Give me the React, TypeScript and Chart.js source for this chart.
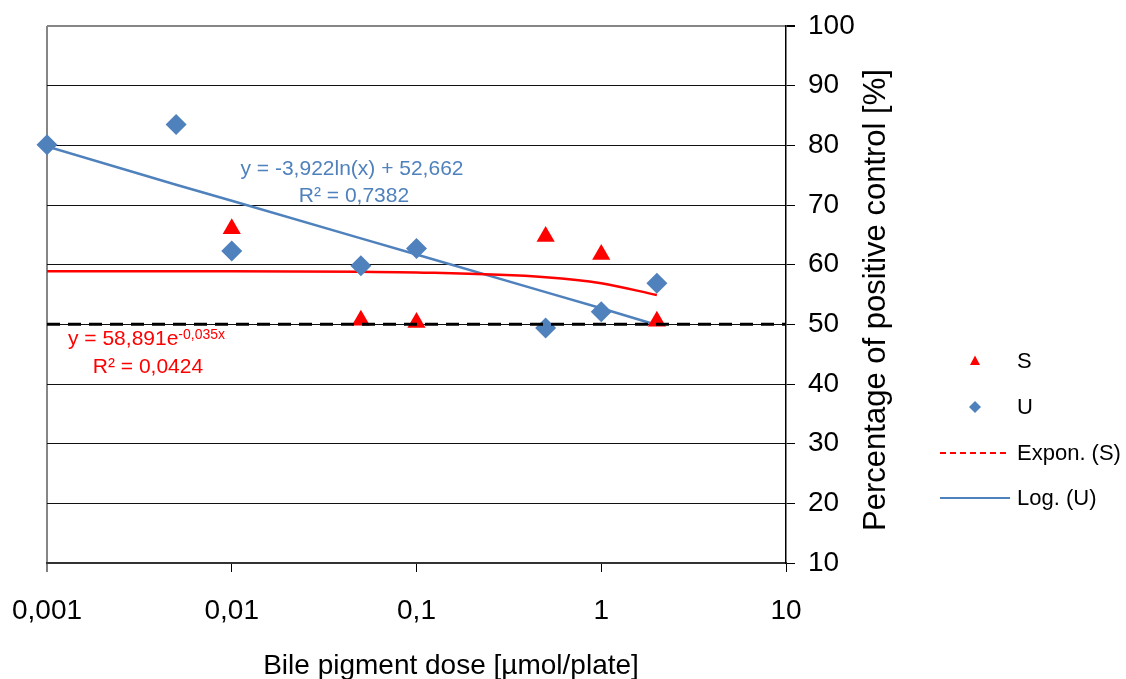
import React, { useEffect, useRef } from "react";
import { Chart, registerables } from "chart.js";

Chart.register(...registerables);

// ---- data ----
const sDoses = [0.01, 0.05, 0.1, 0.5, 1, 2];
const sValues = [66.0, 50.7, 50.3, 64.7, 61.7, 50.5];
const uDoses = [0.001, 0.005, 0.01, 0.05, 0.1, 0.5, 1, 2];
const uValues = [80.1, 83.5, 62.3, 59.8, 62.7, 49.4, 52.1, 56.9];
const trendDoses = [0.001, 0.005, 0.01, 0.05, 0.1, 0.5, 1, 2];
const exponTrendS = [58.9, 58.9, 58.9, 58.8, 58.7, 57.9, 56.9, 54.9];
const logTrendU = [79.8, 73.4, 70.7, 64.4, 61.7, 55.4, 52.7, 49.9];
const controlDoses = [0.001, 10];
const controlLevel = [50, 50];

const xTickValues = [0.001, 0.01, 0.1, 1, 10];
const xTickLabels = ["0,001", "0,01", "0,1", "1", "10"];
const yTickValues = [10, 20, 30, 40, 50, 60, 70, 80, 90, 100];

const xTitle = "Bile pigment dose [µmol/plate]";
const yTitle = "Percentage of positive control [%]";
const legendNames = ["S", "U", "Expon. (S)", "Log. (U)"];
const logEquation = ["y = -3,922ln(x) + 52,662", "R² = 0,7382"];
const expEquation = ["y = 58,891e", "-0,035x", "R² = 0,0424"];

const RED = "#FF0000";
const BLUE = "#4F81BD";
const FONT = '"Liberation Sans", Arial, sans-serif';

const pts = (xs: number[], ys: number[]) => xs.map((x, i) => ({ x, y: ys[i] }));

const textPlugin = {
  id: "texts",
  afterDraw(chart: any) {
    const ctx: CanvasRenderingContext2D = chart.ctx;
    ctx.save();
    // x title
    ctx.fillStyle = "#000";
    ctx.font = `28px ${FONT}`;
    ctx.textAlign = "center";
    ctx.textBaseline = "alphabetic";
    ctx.fillText(xTitle, 451, 674);
    // y title (rotated)
    ctx.save();
    ctx.translate(885, 300);
    ctx.rotate(-Math.PI / 2);
    ctx.font = `31px ${FONT}`;
    ctx.fillText(yTitle, 0, 0);
    ctx.restore();

    // equations
    ctx.font = `21px ${FONT}`;
    ctx.fillStyle = BLUE;
    ctx.textAlign = "center";
    ctx.fillText(logEquation[0], 352, 175);
    ctx.fillText(logEquation[1], 354, 202);

    ctx.fillStyle = RED;
    ctx.textAlign = "left";
    ctx.fillText(expEquation[0], 68, 345);
    const w = ctx.measureText(expEquation[0]).width;
    ctx.font = `14px ${FONT}`;
    ctx.fillText(expEquation[1], 68 + w, 339);
    ctx.font = `21px ${FONT}`;
    ctx.textAlign = "center";
    ctx.fillText(expEquation[2], 148, 373);

    // legend
    const rows = [361, 407, 453, 498];
    ctx.font = `22px ${FONT}`;
    ctx.textAlign = "left";
    ctx.textBaseline = "middle";
    ctx.fillStyle = "#000";
    rows.forEach((y, i) => ctx.fillText(legendNames[i], 1017, y + 1));
    // triangle
    ctx.fillStyle = RED;
    ctx.beginPath();
    ctx.moveTo(975, rows[0] - 5.5);
    ctx.lineTo(980, rows[0] + 4);
    ctx.lineTo(970, rows[0] + 4);
    ctx.closePath();
    ctx.fill();
    // diamond
    ctx.fillStyle = BLUE;
    ctx.beginPath();
    ctx.moveTo(975, rows[1] - 6);
    ctx.lineTo(981, rows[1]);
    ctx.lineTo(975, rows[1] + 6);
    ctx.lineTo(969, rows[1]);
    ctx.closePath();
    ctx.fill();
    // dashed red
    ctx.strokeStyle = RED;
    ctx.lineWidth = 2;
    ctx.setLineDash([6, 4]);
    ctx.beginPath();
    ctx.moveTo(940, rows[2]);
    ctx.lineTo(1006, rows[2]);
    ctx.stroke();
    ctx.setLineDash([]);
    ctx.strokeStyle = BLUE;
    ctx.beginPath();
    ctx.moveTo(940, rows[3]);
    ctx.lineTo(1010, rows[3]);
    ctx.stroke();
    ctx.restore();
  },
};

export default function App() {
  const ref = useRef<HTMLCanvasElement | null>(null);

  useEffect(() => {
    document.body.style.margin = "0";
    const canvas = ref.current;
    if (!canvas) return;
    const chart = new Chart(canvas, {
      type: "scatter",
      data: {
        datasets: [
          {
            label: "control",
            data: pts(controlDoses, controlLevel),
            showLine: true,
            borderColor: "#000",
            borderWidth: 3,
            borderDash: [13, 8],
            pointRadius: 0,
            clip: false as any,
            order: 0,
          },
          {
            label: "S",
            data: pts(sDoses, sValues),
            pointStyle: "triangle",
            pointRadius: 10.5,
            backgroundColor: RED,
            borderColor: RED,
            borderWidth: 0,
            clip: false as any,
            order: 1,
          },
          {
            label: "U",
            data: pts(uDoses, uValues),
            pointStyle: "rectRot",
            pointRadius: 10.5,
            backgroundColor: BLUE,
            borderColor: BLUE,
            borderWidth: 0,
            clip: false as any,
            order: 1,
          },
          {
            label: "Expon. (S)",
            data: pts(trendDoses, exponTrendS),
            showLine: true,
            borderColor: RED,
            borderWidth: 2.5,
            pointRadius: 0,
            cubicInterpolationMode: "monotone",
            order: 2,
          },
          {
            label: "Log. (U)",
            data: pts(trendDoses, logTrendU),
            showLine: true,
            borderColor: BLUE,
            borderWidth: 2.5,
            pointRadius: 0,
            order: 2,
          },
        ],
      },
      options: {
        animation: false,
        responsive: true,
        maintainAspectRatio: false,
        devicePixelRatio: 1,
        layout: { padding: { left: 47, top: 26, right: 0, bottom: 0 } },
        plugins: { legend: { display: false }, tooltip: { enabled: false } },
        scales: {
          x: {
            type: "logarithmic",
            position: "bottom",
            min: 0.001,
            max: 10,
            afterBuildTicks: (s: any) => {
              s.ticks = xTickValues.map((v) => ({ value: v }));
            },
            afterFit: (s: any) => {
              s.height = 116;
              s.paddingLeft = 0;
              s.paddingRight = 0;
            },
            ticks: {
              autoSkip: false,
              maxRotation: 0,
              padding: 22,
              color: "#000",
              font: { family: FONT, size: 28 },
              callback: (_v: any, i: number) => xTickLabels[i],
            },
            grid: {
              drawOnChartArea: true,
              color: (c: any) => (c.index === 0 ? "#868686" : "rgba(0,0,0,0)"),
              lineWidth: (c: any) => (c.index === 0 ? 2 : 1),
              tickColor: "#000",
              tickLength: 9,
              tickWidth: 1,
            },
            border: { display: true, color: "#333", width: 2 },
          },
          y: {
            type: "linear",
            position: "right",
            min: 10,
            max: 100,
            afterBuildTicks: (s: any) => {
              s.ticks = yTickValues.map((v) => ({ value: v }));
            },
            afterFit: (s: any) => {
              s.width = 340;
              s.paddingTop = 0;
              s.paddingBottom = 0;
            },
            ticks: {
              padding: 13,
              color: "#000",
              font: { family: FONT, size: 28 },
            },
            grid: {
              color: (c: any) => (c.tick && c.tick.value === 100 ? "#868686" : "#111"),
              lineWidth: (c: any) => (c.tick && c.tick.value === 100 ? 2 : 1),
              tickColor: "#000",
              tickLength: 9,
            },
            border: { display: true, color: "#000", width: 1.5 },
          },
        },
      },
      plugins: [textPlugin],
    });
    return () => chart.destroy();
  }, []);

  return (
    <div style={{ position: "absolute", left: 0, top: 0, width: 1126, height: 679, background: "#fff" }}>
      <canvas ref={ref} />
    </div>
  );
}
